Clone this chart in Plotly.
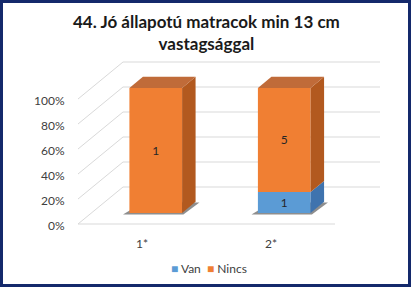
import plotly.graph_objects as go

# ---- data ----
categories = ["1*", "2*"]
series_names = ["Van", "Nincs"]
van = [0, 1]
nincs = [1, 5]
tick_values = [0, 20, 40, 60, 80, 100]
tick_labels = ["0%", "20%", "40%", "60%", "80%", "100%"]
title_text = "44. Jó állapotú matracok min 13 cm<br>vastagsággal"

# ---- style / geometry ----
W, H = 411, 287
PX_X = 128.5          # px per category unit
PX_Y = 1.25           # px per percent
X0PX, Y0PX = 78, 224  # front-left floor corner in px
DXU = 45 / PX_X       # full depth offset (x units)
DYV = 37 / PX_Y       # full depth offset (percent units)
T0, T1 = 0.30, 0.60   # bar depth range
BW = 0.41             # bar width
FONT = "Lato"
front_cols = {"Van": "#5B9BD5", "Nincs": "#F07F33"}
side_cols = {"Van": "#3F73AE", "Nincs": "#B2591F"}
top_cols = {"Van": "#6A9FD0", "Nincs": "#C06B39"}
GRID = "#D9D9D9"

xr = [-0.5 - X0PX / PX_X, -0.5 + (W - X0PX) / PX_X]
yr = [(Y0PX - H) / PX_Y, Y0PX / PX_Y]

fig = go.Figure()
shapes = []
# white inner panel (navy frame shows around it)
shapes.append(dict(type="rect", xref="paper", yref="paper", x0=3 / W, x1=408 / W,
                   y0=3 / H, y1=284 / H, fillcolor="white", line_width=0, layer="below"))
xl_wall = -0.5
xr_wall = len(categories) - 0.5
for v in tick_values:
    shapes.append(dict(type="line", x0=xl_wall, y0=v, x1=xl_wall + DXU, y1=v + DYV,
                       line=dict(color=GRID, width=1), layer="below"))
    shapes.append(dict(type="line", x0=xl_wall + DXU, y0=v + DYV, x1=xr_wall + DXU, y1=v + DYV,
                       line=dict(color=GRID, width=1), layer="below"))
shapes.append(dict(type="line", x0=xl_wall, y0=0, x1=xr_wall, y1=0,
                   line=dict(color=GRID, width=1), layer="below"))

totals = [a + b for a, b in zip(van, nincs)]
pct = {"Van": [a / t * 100 for a, t in zip(van, totals)],
       "Nincs": [b / t * 100 for b, t in zip(nincs, totals)]}
raw = {"Van": van, "Nincs": nincs}

dd = (T1 - T0) * DXU
dv = (T1 - T0) * DYV

# soft shadows beneath bars (below the bar layer)
for i in range(len(categories)):
    xc = i + T0 * DXU
    xa, xb = xc - BW / 2, xc + BW / 2
    b0 = T0 * DYV
    path = (f"M{xa - 0.05},{b0 - 1.2} L{xb + 0.01},{b0 - 1.2} L{xb + dd + 0.03},{b0 + dv - 0.5} "
            f"L{xa + dd},{b0 + dv - 0.5} Z")
    shapes.append(dict(type="path", path=path, fillcolor="rgba(50,50,50,0.55)", line_width=0, layer="below"))

# front faces (bars)
for name in series_names:
    xs, bases, ys, texts = [], [], [], []
    for i in range(len(categories)):
        cum = sum(pct[n][i] for n in series_names[:series_names.index(name)])
        xs.append(i + T0 * DXU)
        bases.append(T0 * DYV + cum)
        ys.append(pct[name][i])
        texts.append(str(raw[name][i]) if raw[name][i] else "")
    fig.add_trace(go.Bar(x=xs, y=ys, base=bases, width=BW, name=name, showlegend=False,
                         marker=dict(color=front_cols[name], line_width=0),
                         text=texts, textposition="inside", insidetextanchor="middle",
                         textangle=0, textfont=dict(family=FONT, size=12, color="#262626"),
                         hoverinfo="skip"))

# side and top faces
for i in range(len(categories)):
    xc = i + T0 * DXU
    xa, xb = xc - BW / 2, xc + BW / 2
    cum = T0 * DYV
    last = None
    for name in series_names:
        h = pct[name][i]
        if h <= 0:
            continue
        y0, y1 = cum, cum + h
        fig.add_trace(go.Scatter(x=[xb, xb, xb + dd, xb + dd, xb], y=[y0, y1, y1 + dv, y0 + dv, y0],
                                 fill="toself", mode="lines", line_width=0,
                                 fillcolor=side_cols[name], showlegend=False, hoverinfo="skip"))
        cum = y1
        last = name
    if last:
        fig.add_trace(go.Scatter(x=[xa, xb, xb + dd, xa + dd, xa], y=[cum, cum, cum + dv, cum + dv, cum],
                                 fill="toself", mode="lines", line_width=0,
                                 fillcolor=top_cols[last], showlegend=False, hoverinfo="skip"))

annotations = []
for v, lab in zip(tick_values, tick_labels):
    annotations.append(dict(x=-0.5 - 11 / PX_X, y=v - 1.2, text=lab, showarrow=False,
                            xanchor="right", yanchor="middle",
                            font=dict(family=FONT, size=12, color="#404040")))
for i, c in enumerate(categories):
    annotations.append(dict(x=i, y=-15.5, text=c, showarrow=False, xanchor="center",
                            yanchor="middle", font=dict(family=FONT, size=12, color="#404040")))
annotations.append(dict(xref="paper", yref="paper", x=206 / W, y=1 - 32.5 / H, text="<b>" + title_text + "</b>",
                        showarrow=False, xanchor="center", yanchor="middle", align="center",
                        font=dict(family=FONT, size=17, color="#1A1A1A")))
# legend
legend_text = "  ".join(f'<span style="color:{front_cols[n]}">■</span> {n}' for n in series_names)
annotations.append(dict(xref="paper", yref="paper", x=209 / W, y=1 - 268 / H, text=legend_text,
                        showarrow=False, xanchor="center", yanchor="middle",
                        font=dict(family=FONT, size=12, color="#404040")))

fig.update_layout(
    width=W, height=H, margin=dict(l=0, r=0, t=0, b=0),
    paper_bgcolor="#14296B", plot_bgcolor="rgba(0,0,0,0)",
    barmode="overlay", showlegend=False,
    xaxis=dict(range=xr, visible=False, fixedrange=True),
    yaxis=dict(range=yr, visible=False, fixedrange=True),
    shapes=shapes, annotations=annotations,
)
fig.write_html("out.html")
